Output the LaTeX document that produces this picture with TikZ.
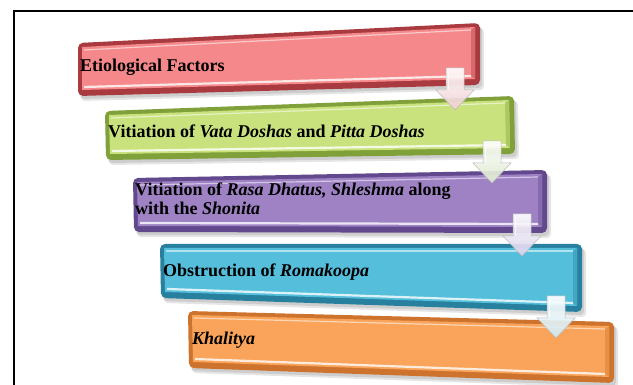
\documentclass[tikz,border=0pt]{standalone}
\usepackage{fontspec}
\setmainfont{Liberation Serif}
\usetikzlibrary{calc}
\definecolor{rdark}{RGB}{168,58,64}
\definecolor{rmain}{RGB}{244,136,138}
\definecolor{gdark}{RGB}{128,160,58}
\definecolor{gmain}{RGB}{201,226,125}
\definecolor{pdark}{RGB}{98,72,140}
\definecolor{pmain}{RGB}{158,130,196}
\definecolor{bdark}{RGB}{38,128,158}
\definecolor{bmain}{RGB}{85,191,219}
\definecolor{odark}{RGB}{205,115,45}
\definecolor{omain}{RGB}{249,164,90}
\definecolor{atint1}{RGB}{240,205,210}
\definecolor{atint2}{RGB}{220,232,205}
\definecolor{atint3}{RGB}{218,208,236}
\definecolor{atint4}{RGB}{205,232,240}
\newcommand\bevbox[7]{%
  \coordinate (#1tl) at #2;
  \coordinate (#1tr) at #3;
  \coordinate (#1br) at #4;
  \coordinate (#1bl) at #5;
  \fill[black,opacity=.10,rounded corners=4pt] ($(#1tl)+(3,5)$) -- ($(#1tr)+(4,5)$) -- ($(#1br)+(4,5)$) -- ($(#1bl)+(3,5)$) -- cycle;
  \fill[black,opacity=.10,rounded corners=4pt] ($(#1tl)+(2,3)$) -- ($(#1tr)+(2,3)$) -- ($(#1br)+(2,3)$) -- ($(#1bl)+(2,3)$) -- cycle;
  \fill[#6,rounded corners=5pt] (#1tl) -- (#1tr) -- (#1br) -- (#1bl) -- cycle;
  \fill[#7] ($(#1tl)+(4,4)$) -- ($(#1tr)+(-5,4)$) -- ($(#1br)+(-5,-6)$) -- ($(#1bl)+(4,-6)$) -- cycle;
  \fill[#7!60!#6] ($(#1tr)+(-5,4)$) -- ($(#1br)+(-5,-6)$) -- ($(#1br)+(-9,-9)$) -- ($(#1tr)+(-9,7)$) -- cycle;
  \draw[white,opacity=.55,line width=1.2pt] ($(#1tl)+(6,7)$) -- ($(#1tr)+(-9,7)$);
  \draw[white,opacity=.8,line width=2.2pt] ($(#1bl)+(6,-9)$) -- ($(#1br)+(-9,-9)$);
}
\newcommand\blockarrow[4]{%
  \coordinate (#1) at (#2,#3);
  \path[draw=gray!55,line width=.5pt,top color=white,bottom color=#4,fill opacity=.92]
    ($(#1)+(-9,-42)$) -- ($(#1)+(9,-42)$) -- ($(#1)+(9,-20)$) -- ($(#1)+(19,-20)$) --
    (#1) -- ($(#1)+(-19,-20)$) -- ($(#1)+(-9,-20)$) -- cycle;
  \draw[white,line width=1pt,opacity=.7] ($(#1)+(-7,-40)$) -- ($(#1)+(-7,-21)$);
}
\tikzset{lbl/.style={anchor=west,inner sep=0pt,font=\bfseries\fontsize{18}{19}\selectfont,text=black,align=left}}
\begin{document}
\begin{tikzpicture}[x=1pt,y=-1pt]
\useasboundingbox (0,0) rectangle (633,385);
\fill[white] (0,0) rectangle (633,385);
\draw[line width=2pt] (14,385) -- (14,11) -- (633,11);
\bevbox{b1}{(78,43)}{(480,23)}{(480,85)}{(78,96)}{rdark}{rmain}
\bevbox{b2}{(105,111)}{(514,96)}{(515,154)}{(106,160)}{gdark}{gmain}
\bevbox{b3}{(133,178)}{(547,170)}{(547,233)}{(134,232)}{pdark}{pmain}
\bevbox{b4}{(160,244)}{(582,244)}{(582,312)}{(161,298)}{bdark}{bmain}
\bevbox{b5}{(188,311)}{(614,322)}{(614,383)}{(189,368)}{odark}{omain}
\node[lbl] (t1) at (80,67) {Etiological Factors};
\node[lbl] (t2) at (108,131) {Vitiation of \textit{Vata Doshas} and \textit{Pitta Doshas}};
\node[lbl] (t3) at (135,199) {Vitiation of \textit{Rasa Dhatus, Shleshma} along\\with the \textit{Shonita}};
\node[lbl] (t4) at (163,272) {Obstruction of \textit{Romakoopa}};
\node[lbl] (t5) at (192,340) {\textit{Khalitya}};
\blockarrow{a1}{455}{110}{atint1}
\blockarrow{a2}{492}{183}{atint2}
\blockarrow{a3}{522}{256}{atint3}
\blockarrow{a4}{556}{338}{atint4}
\end{tikzpicture}
\end{document}
